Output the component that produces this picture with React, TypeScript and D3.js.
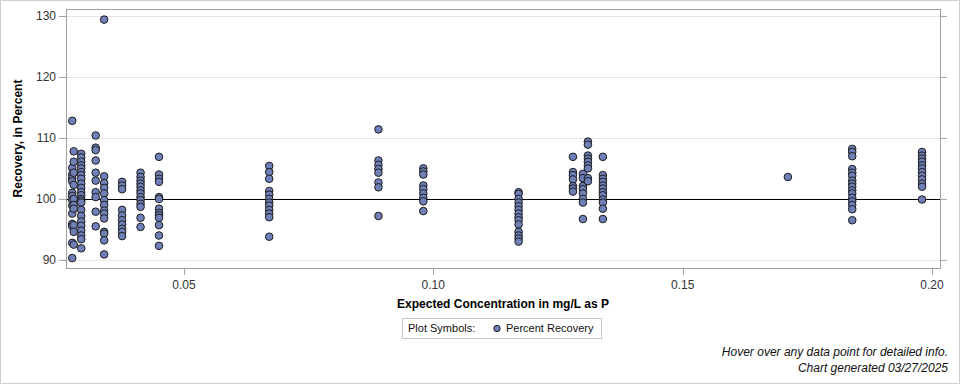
import React from 'react';
import * as d3 from 'd3';

// expected concentration (mg/L as P) of each sample group
const concentrations = [
  0.0276, 0.0279, 0.0294, 0.0323, 0.034, 0.0376, 0.0413, 0.045, 0.0671, 0.089,
  0.098, 0.1171, 0.128, 0.13, 0.131, 0.134, 0.1711, 0.184, 0.198,
];

// percent recovery values for each group, same order as above
const recoveries = [
  [112.8, 105.1, 104.0, 103.4, 102.9, 101.0, 100.5, 99.8, 98.9, 97.6, 95.9, 95.5, 92.8, 90.3],
  [107.8, 106.1, 104.3, 102.3, 100.0, 99.0, 98.4, 95.7, 94.6, 92.5],
  [107.4, 106.8, 106.1, 105.5, 105.0, 104.4, 103.9, 103.3, 102.5, 101.8, 101.1, 100.6, 100.0, 99.7, 99.4, 98.2, 97.2, 96.3, 95.6, 94.8, 94.0, 93.4, 91.9],
  [110.4, 108.4, 108.0, 106.3, 104.3, 103.0, 101.1, 100.3, 97.9, 95.5],
  [129.4, 103.7, 102.6, 101.8, 100.9, 99.8, 99.0, 98.1, 97.6, 96.8, 94.6, 94.3, 93.2, 90.9],
  [102.8, 102.2, 101.6, 98.2, 97.3, 96.5, 95.8, 95.1, 94.6, 93.9],
  [104.3, 103.6, 103.0, 102.5, 102.0, 101.4, 100.9, 100.3, 99.8, 99.2, 98.7, 96.9, 95.4],
  [106.9, 104.0, 103.3, 102.8, 100.3, 100.0, 98.4, 97.7, 97.3, 96.9, 95.7, 94.0, 92.3],
  [105.4, 104.4, 103.3, 101.3, 100.7, 100.0, 99.4, 98.9, 98.2, 97.6, 97.0, 93.8],
  [111.4, 106.3, 105.6, 104.9, 104.3, 102.7, 101.9, 97.2],
  [105.0, 104.5, 104.0, 102.2, 101.6, 100.9, 100.2, 99.6, 98.0],
  [101.1, 100.8, 100.0, 99.4, 98.8, 98.2, 97.6, 97.0, 96.5, 95.8, 94.6, 94.0, 93.5, 93.0],
  [106.9, 104.4, 103.9, 103.2, 102.1, 101.7, 101.2],
  [104.1, 103.4, 102.1, 101.6, 100.9, 100.0, 99.4, 96.7],
  [109.4, 108.9, 107.1, 106.6, 106.1, 105.5, 105.0, 103.4, 102.9],
  [106.9, 103.9, 103.3, 102.8, 102.2, 101.7, 101.1, 100.6, 99.9, 99.4, 98.4, 96.7],
  [103.6],
  [108.2, 107.7, 107.0, 104.9, 104.3, 103.8, 103.0, 102.5, 102.0, 101.4, 100.9, 100.2, 99.6, 99.0, 98.3, 96.5],
  [107.7, 107.1, 106.6, 106.1, 105.5, 105.0, 104.4, 103.8, 103.2, 102.5, 102.0, 99.9],
];

const xTicks = [0.05, 0.1, 0.15, 0.2];
const yTicks = [90, 100, 110, 120, 130];
const referenceValue = 100;

const W = 960;
const H = 384;
const left = 66;
const right = 940;
const top = 9;
const bottom = 268;
const font = 'Liberation Sans, Arial, sans-serif';
const fill = '#6f7fb7';

export default function App() {
  const x = d3.scaleLinear().domain([0.02635, 0.2016]).range([left, right]);
  const y = d3.scaleLinear().domain([88.67, 131.14]).range([bottom, top]);

  const points = concentrations.flatMap((c, i) => recoveries[i].map((v) => ({ c, v })));

  return (
    <svg
      width={W}
      height={H}
      style={{ position: 'absolute', left: 0, top: 0, background: '#fff' }}
      fontFamily={font}
    >
      <rect x={0.5} y={0.5} width={W - 1} height={H - 1} fill="#fff" stroke="#cfcfcf" />

      {yTicks.map((t) => (
        <line key={'g' + t} x1={left} x2={right} y1={y(t) + 0.5} y2={y(t) + 0.5} stroke="#e3e3e3" />
      ))}

      <line x1={left} x2={right} y1={Math.round(y(referenceValue)) + 0.5} y2={Math.round(y(referenceValue)) + 0.5} stroke="#000" />

      <rect x={left + 0.5} y={top + 0.5} width={right - left} height={bottom - top} fill="none" stroke="#a0a0a0" />

      {yTicks.map((t) => (
        <g key={'y' + t}>
          <line x1={left - 7} x2={left} y1={y(t) + 0.5} y2={y(t) + 0.5} stroke="#a0a0a0" />
          <line x1={right} x2={right + 7} y1={y(t) + 0.5} y2={y(t) + 0.5} stroke="#a0a0a0" />
          <text x={left - 10} y={y(t)} dy="0.35em" textAnchor="end" fontSize={12} fill="#333">
            {t}
          </text>
        </g>
      ))}

      {xTicks.map((t) => (
        <g key={'x' + t}>
          <line x1={Math.round(x(t)) + 0.5} x2={Math.round(x(t)) + 0.5} y1={bottom} y2={bottom + 7} stroke="#a0a0a0" />
          <text x={x(t)} y={289} textAnchor="middle" fontSize={12} fill="#333">
            {d3.format('.2f')(t)}
          </text>
        </g>
      ))}

      <text
        transform={`translate(22, ${(top + bottom) / 2}) rotate(-90)`}
        textAnchor="middle"
        fontSize={12}
        fontWeight="bold"
      >
        Recovery, in Percent
      </text>
      <text x={(left + right) / 2} y={308} textAnchor="middle" fontSize={12} fontWeight="bold">
        Expected Concentration in mg/L as P
      </text>

      {points.map((p, i) => (
        <circle key={i} cx={x(p.c)} cy={y(p.v)} r={3.8} fill={fill} stroke="#1c1c1c" strokeWidth={1} />
      ))}

      <rect x={402.5} y={318.5} width={199} height={20} fill="#fff" stroke="#c8c8c8" />
      <text x={408} y={332} fontSize={11} fill="#111">Plot Symbols:</text>
      <circle cx={497} cy={328.5} r={3.2} fill={fill} stroke="#1c1c1c" />
      <text x={506} y={332} fontSize={11} fill="#111">Percent Recovery</text>

      <text x={948} y={356} textAnchor="end" fontSize={12} fontStyle="italic" fill="#111">
        Hover over any data point for detailed info.
      </text>
      <text x={948} y={372} textAnchor="end" fontSize={12} fontStyle="italic" fill="#111">
        Chart generated 03/27/2025
      </text>
    </svg>
  );
}
